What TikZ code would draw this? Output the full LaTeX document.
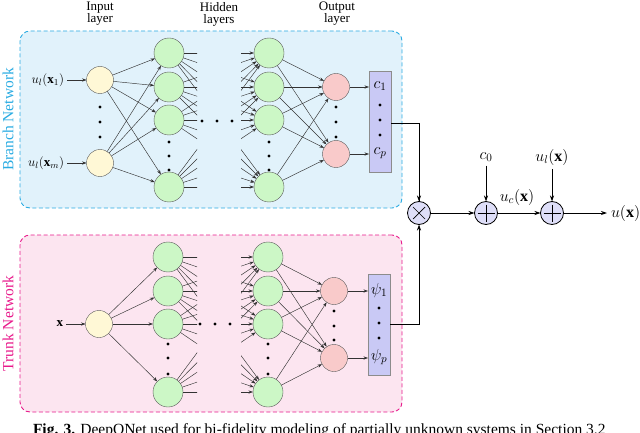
\RequirePackage{fix-cm}
\documentclass[tikz,border=0pt]{standalone}
\usepackage{fontspec}
\setmainfont{Liberation Serif}
\usetikzlibrary{arrows.meta,calc}
\definecolor{bfill}{HTML}{E1F2FB}
\definecolor{bline}{HTML}{29ABE2}
\definecolor{tfill}{HTML}{FCE5F0}
\definecolor{tline}{HTML}{E8198B}
\definecolor{yel}{HTML}{FFF8D6}
\definecolor{grn}{HTML}{CCF7C6}
\definecolor{pnk}{HTML}{F9CACA}
\definecolor{lav}{HTML}{C9C9F5}
\definecolor{opf}{HTML}{DEDEF8}
\definecolor{edgec}{HTML}{333333}
\begin{document}
\begin{tikzpicture}[x=1pt,y=-1pt,
  every node/.style={inner sep=0pt, outer sep=0pt},
  netbox/.style={rectangle, rounded corners=10pt, dash pattern=on 4pt off 2.5pt, line width=0.9pt},
  inpn/.style={circle, draw=black!65, fill=yel, minimum size=27pt, line width=0.4pt},
  hidn/.style={circle, draw=black!65, fill=grn, minimum size=30pt, line width=0.4pt},
  outn/.style={circle, draw=black!65, fill=pnk, minimum size=27pt, line width=0.4pt},
  vecbox/.style={rectangle, draw=black!45, fill=lav, minimum width=22pt, minimum height=101pt, line width=0.5pt},
  opn/.style={circle, draw=black, fill=opf, minimum size=23pt, line width=0.8pt},
  dotn/.style={circle, fill=black, minimum size=3.4pt},
  lbl/.style={font=\fontsize{13}{12.5}\selectfont},
  big/.style={font=\fontsize{16}{16}\selectfont},
  link/.style={draw=edgec, line width=0.45pt, -{Stealth[length=4.5pt,width=3.2pt]}},
  stub/.style={draw=edgec, line width=0.45pt},
  flow/.style={draw=black, line width=0.9pt, -{Stealth[length=6pt,width=4pt]}},
  sym/.style={draw=black, line width=0.7pt},
]
\useasboundingbox (0,0) rectangle (640,433);
% boxes
\node[netbox, draw=bline, fill=bfill, minimum width=382pt, minimum height=177pt] (bbox) at (211,119.5) {};
\node[netbox, draw=tline, fill=tfill, minimum width=382pt, minimum height=177pt] (tbox) at (211,323.5) {};
\node[rotate=90, text=bline, font=\fontsize{15.5}{16}\selectfont] (bnl) at (8,119.5) {Branch Network};
\node[rotate=90, text=tline, font=\fontsize{15.5}{16}\selectfont] (tnl) at (8,323.5) {Trunk Network};
% headings
\node[lbl, align=center] (hin) at (100,13.5) {Input\\layer};
\node[lbl, align=center] (hhid) at (219,14.5) {Hidden\\layers};
\node[lbl, align=center] (hout) at (337,13.5) {Output\\layer};
% ---------------- branch ----------------
\node[inpn] (bi1) at (100,80) {};
\node[inpn] (bim) at (100,163) {};
\node[lbl, anchor=east] (bl1) at (64,80) {$u_l(\mathbf{x}_1)$};
\node[lbl, anchor=east] (blm) at (64,163) {$u_l(\mathbf{x}_m)$};
\foreach \i/\y in {1/53,2/87,3/120,4/187} {
  \node[hidn] (bh1-\i) at (169,\y) {};
  \node[hidn] (bh2-\i) at (269,\y) {};
}
\coordinate (bv1) at (169,155);
\coordinate (bv2) at (269,155);
\node[outn] (bo1) at (336,87) {};
\node[outn] (bo2) at (336,154) {};
\node[vecbox] (bc) at (380,121.5) {};
\node[big] (c1) at (380,86) {$c_1$};
\node[big] (cp) at (380,153) {$c_p$};
% ---------------- trunk ----------------
\node[inpn] (ti) at (99,324) {};
\node[lbl, anchor=east] (tl) at (63,324) {$\mathbf{x}$};
\foreach \i/\y in {1/257,2/291,3/324,4/392} {
  \node[hidn] (th1-\i) at (168,\y) {};
  \node[hidn] (th2-\i) at (268,\y) {};
}
\coordinate (tv1) at (168,358);
\coordinate (tv2) at (268,358);
\node[outn] (to1) at (334,291) {};
\node[outn] (to2) at (334,358) {};
\node[vecbox] (tc) at (379,324.5) {};
\node[big] (psi1) at (379,290) {$\psi_1$};
\node[big] (psip) at (379,357) {$\psi_p$};
% dots
\foreach \x/\y [count=\k] in {100/107,100/122,100/137, 169/142,169/156,169/170, 269/142,269/156,269/170,
  202/121,217/121,232/121, 336/107,336/122,336/137, 380/105,380/120,380/135,
  168/344,168/358,168/374, 268/344,268/358,268/374, 200/324,215/324,230/324,
  334/311,334/326,334/340, 379/308,379/323,379/338}
  \node[dotn] (dot\k) at (\x,\y) {};
% ---------------- branch connectors ----------------
\draw[link] (bl1.east) ++(3,0) -- (bi1);
\draw[link] (blm.east) ++(3,0) -- (bim);
\foreach \j in {1,...,4} {
  \draw[link] (bi1) -- (bh1-\j);
  \draw[link] (bim) -- (bh1-\j);
  \draw[link] (bh2-\j) -- (bo1);
  \draw[link] (bh2-\j) -- (bo2);
}
\begin{scope}
  \clip (150,0) rectangle (197,433);
  \foreach \i in {1,...,4} {
    \foreach \j in {1,...,4} \draw[stub] (bh1-\i) -- (bh2-\j);
    \draw[stub] (bh1-\i) -- (bv2);
    \draw[stub] (th1-\i) -- (tv2);
    \foreach \j in {1,...,4} \draw[stub] (th1-\i) -- (th2-\j);
  }
\end{scope}
\begin{scope}
  \clip (241,0) rectangle (290,433);
  \foreach \i in {1,...,4} {
    \foreach \j in {1,...,4} \draw[link] (bh1-\i) -- (bh2-\j);
    \draw[link] (bv1) -- (bh2-\i);
    \draw[link] (tv1) -- (th2-\i);
    \foreach \j in {1,...,4} \draw[link] (th1-\i) -- (th2-\j);
  }
\end{scope}
\draw[link] (bo1) -- (bo1 -| bc.west);
\draw[link] (bo2) -- (bo2 -| bc.west);
% ---------------- trunk connectors ----------------
\draw[link] (tl.east) ++(3,0) -- (ti);
\foreach \j in {1,...,4} {
  \draw[link] (ti) -- (th1-\j);
  \draw[link] (th2-\j) -- (to1);
  \draw[link] (th2-\j) -- (to2);
}
\draw[link] (to1) -- (to1 -| tc.west);
\draw[link] (to2) -- (to2 -| tc.west);
% ---------------- combination ----------------
\node[opn] (mul) at (419,213) {};
\node[opn] (p1) at (486,213) {};
\node[opn] (p2) at (552,213) {};
\draw[sym] ($(mul.center)+(-6,-6)$) -- ($(mul.center)+(6,6)$);
\draw[sym] ($(mul.center)+(-6,6)$) -- ($(mul.center)+(6,-6)$);
\foreach \p in {p1,p2} {
  \draw[sym] ($(\p.center)+(-8.5,0)$) -- ($(\p.center)+(8.5,0)$);
  \draw[sym] ($(\p.center)+(0,-8.5)$) -- ($(\p.center)+(0,8.5)$);
}
\node[big] (c0) at (486,157) {$c_0$};
\node[big] (ulx) at (552,157) {$u_l(\mathbf{x})$};
\node[big] (ucx) at (517,197) {$u_c(\mathbf{x})$};
\node[big, anchor=west] (ux) at (611,213) {$u(\mathbf{x})$};
\draw[flow, -] ($(bc.east)+(0,1.5)$) coordinate (bce) -| (mul.north);
\draw[flow] (bce -| mul) -- (mul.north);
\draw[flow, -] (tc.east) -| ($(mul.south)+(0,20)$);
\draw[flow] (tc.east -| mul) -- (mul.south);
\draw[flow] (mul) -- (p1);
\draw[flow] (p1) -- (p2);
\draw[flow] (p2) -- ($(ux.west)+(-4,0)$);
\draw[flow] (c0.south) ++(0,4) -- (p1.north);
\draw[flow] (ulx.south) ++(0,4) -- (p2.north);
% caption (cut by the frame)
\node[anchor=base west, font=\fontsize{15.5}{15.5}\selectfont] (cap) at (33,434) {\textbf{Fig. 3.} DeepONet used for bi-fidelity modeling of partially unknown systems in Section 3.2};
\end{tikzpicture}
\end{document}
